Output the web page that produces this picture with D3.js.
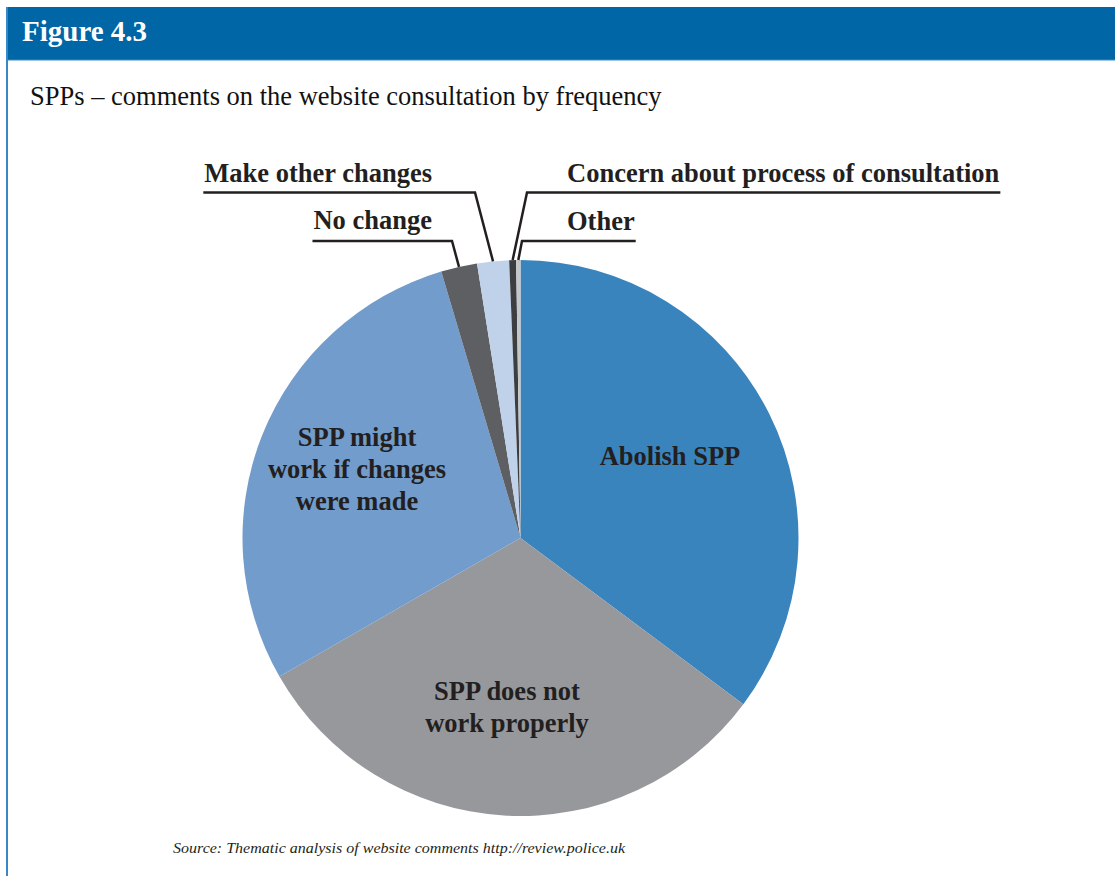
<!DOCTYPE html>
<html><head><meta charset="utf-8">
<script src="https://cdn.jsdelivr.net/npm/d3@7"></script>
<style>
html,body{margin:0;padding:0;background:#fff;}
svg{display:block;}
</style></head>
<body>
<svg id="chart" width="1115" height="876"></svg>
<script>
// ---- data ----
const categories = ["Abolish SPP","SPP does not work properly","SPP might work if changes were made","No change","Make other changes","Concern about process of consultation","Other"];
const values = [35.2, 31.5, 28.7, 2.1, 1.85, 0.4, 0.25];
const colors = ["#3A84BE","#97989C","#729CCB","#5E5F62","#BFD2EA","#3D3E40","#C6C7C9"];
const insideLabels = {
  "Abolish SPP": ["Abolish SPP"],
  "SPP does not work properly": ["SPP does not","work properly"],
  "SPP might work if changes were made": ["SPP might","work if changes","were made"]
};
const titleText = "Figure 4.3";
const subtitleText = "SPPs \u2013 comments on the website consultation by frequency";
const sourceText = "Source: Thematic analysis of website comments http://review.police.uk";

// ---- layout ----
const svg = d3.select("#chart");
const W = 1115, H = 876;
const cx = 520.5, cy = 538, R = 278;
const serif = "'Liberation Serif','Times New Roman',serif";

// frame
svg.append("rect").attr("x",7).attr("y",7).attr("width",W-7).attr("height",53).attr("fill","#0066A6");
svg.append("line").attr("x1",7).attr("x2",W).attr("y1",60).attr("y2",60).attr("stroke","#3C8AC8").attr("stroke-width",1.2);
svg.append("line").attr("x1",7).attr("x2",7).attr("y1",7).attr("y2",H).attr("stroke","#3A87C8").attr("stroke-width",2);

svg.append("text").attr("x",22).attr("y",41).text(titleText)
  .attr("font-family",serif).attr("font-weight","bold").attr("font-size",29).attr("fill","#fff");
svg.append("text").attr("x",30).attr("y",105).text(subtitleText)
  .attr("font-family",serif).attr("font-size",26.5).attr("fill","#111");

// pie
const data = categories.map((c,i)=>({name:c,value:values[i],color:colors[i]}));
const pie = d3.pie().value(d=>d.value).sort(null);
const arcs = pie(data);
const arc = d3.arc().innerRadius(0).outerRadius(R);
const g = svg.append("g").attr("transform",`translate(${cx},${cy})`);
g.selectAll("path").data(arcs).join("path")
  .attr("d",arc).attr("fill",d=>d.data.color);

// inside labels
const inPos = {
  "Abolish SPP":[149.5,-73],
  "SPP does not work properly":[-13.5,162],
  "SPP might work if changes were made":[-163.5,-92]
};
arcs.forEach(a=>{
  const lines = insideLabels[a.data.name];
  if(!lines) return;
  const p = inPos[a.data.name];
  const t = g.append("text").attr("text-anchor","middle")
    .attr("font-family",serif).attr("font-weight","bold").attr("font-size",26.5).attr("fill","#231F20");
  lines.forEach((l,i)=>{
    t.append("tspan").attr("x",p[0]).attr("y",p[1]+i*32).text(l);
  });
});

// outside labels with leader lines
const outside = {
  "No change":{side:"left",tx:432,ty:229,ly:241,ex:452},
  "Make other changes":{side:"left",tx:432,ty:182,ly:192.5,ex:475},
  "Concern about process of consultation":{side:"right",tx:567,ty:182,ly:192.5,ex:527},
  "Other":{side:"right",tx:567,ty:230,ly:241,ex:522}
};
arcs.forEach(a=>{
  const o = outside[a.data.name];
  if(!o) return;
  const t = svg.append("text").attr("x",o.tx).attr("y",o.ty)
    .attr("text-anchor",o.side==="left"?"end":"start")
    .attr("font-family",serif).attr("font-weight","bold").attr("font-size",26.5).attr("fill","#231F20")
    .text(a.data.name);
  const w = t.node().getComputedTextLength();
  const outer = o.side==="left" ? o.tx - w - 1 : o.tx + w + 1;
  const mid = (a.startAngle + a.endAngle)/2;
  const px = cx + R*Math.sin(mid), py = cy - R*Math.cos(mid);
  svg.append("polyline")
    .attr("points",`${outer},${o.ly} ${o.ex},${o.ly} ${px},${py}`)
    .attr("fill","none").attr("stroke","#231F20").attr("stroke-width",2.5);
});

svg.append("text").attr("x",173).attr("y",853).text(sourceText)
  .attr("font-family",serif).attr("font-style","italic").attr("font-size",15).attr("fill","#231F20")
  .attr("textLength",452).attr("lengthAdjust","spacingAndGlyphs");
</script>
</body></html>
